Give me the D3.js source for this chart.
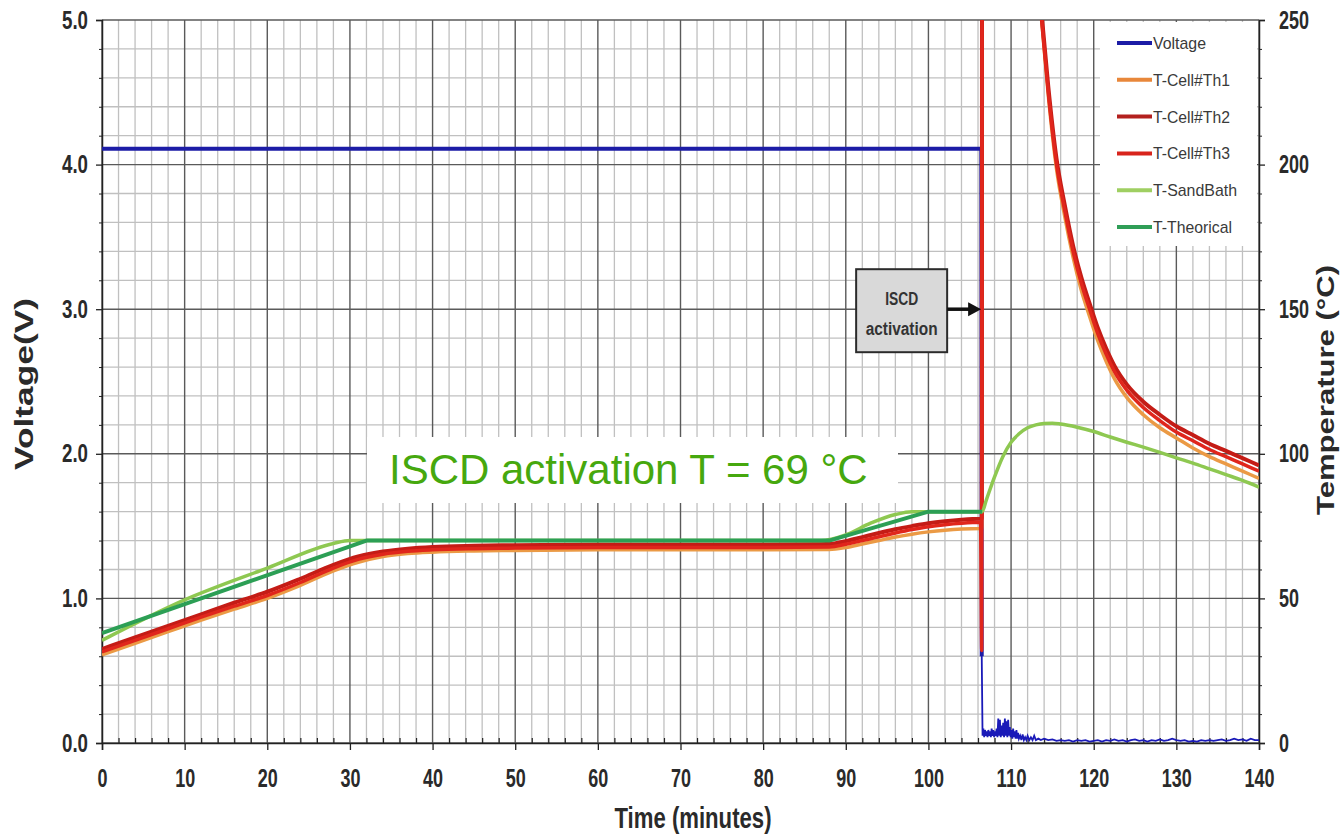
<!DOCTYPE html>
<html>
<head>
<meta charset="utf-8">
<script src="https://cdn.jsdelivr.net/npm/d3@7"></script>
<style>
  html, body { margin: 0; padding: 0; background: #ffffff; }
  svg { display: block; }
</style>
</head>
<body>
<svg id="chart" width="1343" height="836"></svg>
<script>
// ---- Axis ticks ----
const timeTicks = [0, 10, 20, 30, 40, 50, 60, 70, 80, 90, 100, 110, 120, 130, 140];
const voltTicks = [0, 1, 2, 3, 4, 5];
const tempTicks = [0, 50, 100, 150, 200, 250];

// ---- Cell voltage (V) ----
const voltTime = [0, 106.4, 106.45,
  106.55, 106.65, 106.75, 106.85, 106.95, 107.05, 107.15, 107.25, 107.35, 107.45,
  107.55, 107.65, 107.75, 107.85, 107.95, 108.05, 108.15, 108.25, 108.35, 108.45,
  108.55, 108.65, 108.75, 108.85, 108.95, 109.05, 109.15, 109.25, 109.35, 109.45,
  109.55, 109.65, 109.75, 109.85, 109.95, 110.05, 110.15, 110.25, 110.35, 110.45,
  110.55, 110.65, 110.75, 110.85, 110.95, 111.1, 111.25, 111.4, 111.55, 111.7,
  111.85, 112.0, 112.2, 112.4, 112.6, 112.8, 113.0, 113.3, 113.6,
  114, 114.5, 115, 115.5, 116, 116.5, 117, 117.5, 118, 118.5, 119, 119.5, 120,
  120.5, 121, 121.5, 122, 122.5, 123, 123.5, 124, 124.5, 125, 125.5, 126, 126.5,
  127, 127.5, 128, 128.5, 129, 129.5, 130, 130.5, 131, 131.5, 132, 132.5, 133,
  133.5, 134, 134.5, 135, 135.5, 136, 136.5, 137, 137.5, 138, 138.5, 139, 139.5, 140];
const voltValue = [4.11, 4.11, 0.60,
  0.05, 0.10, 0.04, 0.09, 0.05, 0.08, 0.04, 0.09, 0.05, 0.08,
  0.04, 0.10, 0.05, 0.09, 0.04, 0.08, 0.05, 0.10, 0.04, 0.17,
  0.05, 0.16, 0.04, 0.12, 0.05, 0.14, 0.04, 0.17, 0.05, 0.15,
  0.04, 0.16, 0.05, 0.11, 0.04, 0.09, 0.03, 0.10, 0.04, 0.08,
  0.03, 0.09, 0.03, 0.07, 0.03, 0.05, 0.02, 0.06, 0.02, 0.04,
  0.02, 0.05, 0.02, 0.04, 0.02, 0.05, 0.02, 0.03, 0.02,
  0.03, 0.02, 0.025, 0.015, 0.02, 0.015, 0.02, 0.01, 0.02, 0.015, 0.02, 0.01, 0.015,
  0.02, 0.01, 0.02, 0.015, 0.025, 0.015, 0.02, 0.01, 0.02, 0.025, 0.015, 0.02, 0.01,
  0.02, 0.015, 0.025, 0.015, 0.02, 0.03, 0.02, 0.015, 0.02, 0.01, 0.015, 0.01, 0.02,
  0.015, 0.02, 0.015, 0.02, 0.025, 0.015, 0.02, 0.03, 0.02, 0.025, 0.015, 0.03, 0.02, 0.02];

// ---- Cell thermocouples (°C) ----
const cellTime = [0, 4, 8, 12, 16, 20, 24, 28, 31, 34, 37, 40, 45, 50, 60, 70, 80, 88,
  90, 92, 94, 96, 98, 100, 102, 104, 106.3, 106.45, 106.5, 113, 113.7, 114.5, 115.5,
  116.5, 117.5, 118.5, 119.5, 120.5, 121.5, 122.5, 124, 126, 128, 130, 132, 134, 136, 138, 140];
const th1Value = [30.5, 34.5, 38.5, 42.5, 46.3, 50, 54.5, 59.5, 62.5, 64.5, 65.5, 66, 66.4, 66.6, 66.8, 66.8, 66.8, 66.9,
  67.6, 68.8, 70, 71.2, 72.2, 73, 73.6, 74, 74.2, 74.2, 330, 272, 250, 224, 198.5,
  182, 168, 156.5, 147.5, 139, 132, 126, 119.5, 113.5, 109, 105.5, 102, 99, 96.5, 94, 91.5];
const th2Value = [32.5, 36.5, 40.5, 44.5, 48.5, 52.3, 56.8, 61.6, 64.5, 66.2, 67.2, 67.8, 68.2, 68.4, 68.6, 68.6, 68.6, 68.8,
  69.8, 71.2, 72.6, 73.9, 75, 76, 76.7, 77.2, 77.5, 77.5, 330, 277, 252, 227, 202,
  186, 172, 161, 152, 143.5, 136.5, 130.5, 124, 118, 113.5, 109.5, 106.5, 103.5, 101, 98.5, 96];
const th3Value = [31.5, 35.5, 39.5, 43.5, 47.3, 51, 55.5, 60.5, 63.5, 65.3, 66.3, 66.8, 67.2, 67.4, 67.6, 67.6, 67.6, 67.8,
  68.7, 70, 71.3, 72.6, 73.8, 74.8, 75.5, 76, 76.3, 32, 330, 275, 250, 225, 200,
  184, 170, 159, 150, 141.5, 134.5, 128.5, 122, 116, 111.5, 107.5, 104.5, 101.5, 99, 96.5, 94];

// ---- Sand bath (°C) ----
const bathTime = [0, 10, 20, 28, 30, 40, 50, 60, 70, 80, 87, 90, 93, 96, 98, 100, 103, 106.5,
  107, 108, 109, 110, 111, 112, 113, 114, 115, 116, 118, 120, 122, 124, 126, 128, 130, 132, 134, 136, 138, 140];
const bathValue = [35.5, 49.5, 60.5, 69, 70, 70, 70, 70, 70, 70, 70, 72, 76, 79, 80, 80, 80, 80,
  84, 92, 99, 104, 107, 109, 110, 110.5, 110.6, 110.3, 109.2, 107.7, 105.8, 104, 102.3, 100.5, 98.6, 96.8, 94.8, 92.8, 90.8, 88.5];

// ---- Theoretical set-point (°C) ----
const theoTime = [0, 32, 88, 100, 106.5];
const theoValue = [38, 70, 70, 80, 80];

// ---- Annotations ----
const activationTime = 106.5;
const activationTemp = 69;

// ---- Legend entries ----
const legendNames = ["Voltage", "T-Cell#Th1", "T-Cell#Th2", "T-Cell#Th3", "T-SandBath", "T-Theorical"];
const legendColors = ["#1c1ca6", "#e8873a", "#b3201e", "#d8241c", "#9fcf62", "#2f9e57"];

// ---------------------------------------------------------------
const svg = d3.select("#chart");
const W = 1343, H = 836;
const pLeft = 102, pRight = 1259, pTop = 20, pBottom = 743;

const x = d3.scaleLinear().domain([0, 140]).range([pLeft, pRight]);
const yV = d3.scaleLinear().domain([0, 5]).range([pBottom, pTop]);
const yT = d3.scaleLinear().domain([0, 250]).range([pBottom, pTop]);

const narrow = "'Liberation Sans', Arial, Helvetica, sans-serif";

svg.append("rect").attr("width", W).attr("height", H).attr("fill", "#ffffff");

// ---- Grid ----
const grid = svg.append("g");
const minorX = d3.range(0, 141, 2).filter(d => d % 10 !== 0);
const minorY = d3.range(1, 25).filter(i => i % 5 !== 0).map(i => i * 0.2);

grid.selectAll(".gx-minor").data(minorX).join("line")
  .attr("x1", d => x(d)).attr("x2", d => x(d)).attr("y1", pTop).attr("y2", pBottom)
  .attr("stroke", "#c0c0c0").attr("stroke-width", 1.3);
grid.selectAll(".gy-minor").data(minorY).join("line")
  .attr("x1", pLeft).attr("x2", pRight).attr("y1", d => yV(d)).attr("y2", d => yV(d))
  .attr("stroke", "#c0c0c0").attr("stroke-width", 1.3);
grid.selectAll(".gx-major").data(timeTicks).join("line")
  .attr("x1", d => x(d)).attr("x2", d => x(d)).attr("y1", pTop).attr("y2", pBottom)
  .attr("stroke", "#5a5a5a").attr("stroke-width", 1.4);
grid.selectAll(".gy-major").data(voltTicks).join("line")
  .attr("x1", pLeft).attr("x2", pRight).attr("y1", d => yV(d)).attr("y2", d => yV(d))
  .attr("stroke", "#5a5a5a").attr("stroke-width", 1.4);

// ---- Axes ----
function squeeze(sel, perChar) {
  sel.each(function () {
    const t = this.textContent;
    const n = t.replace(/\./g, "").length;
    const dots = (t.match(/\./g) || []).length;
    d3.select(this).attr("textLength", n * perChar + dots * 5).attr("lengthAdjust", "spacingAndGlyphs");
  });
}
function styleAxis(g) {
  g.select(".domain").attr("stroke", "#222").attr("stroke-width", 1.5);
  g.selectAll(".tick line").attr("stroke", "#222").attr("stroke-width", 1.3);
  g.selectAll("text").attr("font-family", narrow).attr("font-weight", "bold")
    .attr("font-size", 25).attr("fill", "#2a2a2a");
}

const axL = svg.append("g").attr("transform", `translate(${pLeft},0)`)
  .call(d3.axisLeft(yV).tickValues(voltTicks).tickFormat(d3.format(".1f")).tickSize(6).tickPadding(8));
styleAxis(axL); squeeze(axL.selectAll("text"), 10.5);
svg.append("g").attr("transform", `translate(${pLeft},0)`)
  .call(d3.axisLeft(yV).tickValues(minorY).tickFormat("").tickSize(3))
  .call(g => { g.select(".domain").remove(); g.selectAll("line").attr("stroke", "#222"); });

const axR = svg.append("g").attr("transform", `translate(${pRight},0)`)
  .call(d3.axisRight(yT).tickValues(tempTicks).tickFormat(d3.format("d")).tickSize(6).tickPadding(14));
styleAxis(axR); squeeze(axR.selectAll("text"), 10);
svg.append("g").attr("transform", `translate(${pRight},0)`)
  .call(d3.axisRight(yT).tickValues(minorY.map(v => v * 50)).tickFormat("").tickSize(3))
  .call(g => { g.select(".domain").remove(); g.selectAll("line").attr("stroke", "#222"); });

const axB = svg.append("g").attr("transform", `translate(0,${pBottom})`)
  .call(d3.axisBottom(x).tickValues(timeTicks).tickFormat(d3.format("d")).tickSize(7).tickPadding(19));
styleAxis(axB); squeeze(axB.selectAll("text"), 10);
svg.append("g").attr("transform", `translate(0,${pBottom})`)
  .call(d3.axisTop(x).tickValues(minorX).tickFormat("").tickSize(5))
  .call(g => { g.select(".domain").remove(); g.selectAll("line").attr("stroke", "#222").attr("stroke-width", 1.2); });

// ---- Axis titles ----
svg.append("text").attr("transform", `translate(33,384) rotate(-90)`)
  .attr("text-anchor", "middle").attr("font-family", narrow).attr("font-weight", "bold")
  .attr("font-size", 25).attr("fill", "#2a2a2a")
  .attr("textLength", 172).attr("lengthAdjust", "spacingAndGlyphs").text("Voltage(V)");
svg.append("text").attr("transform", `translate(1334,390) rotate(-90)`)
  .attr("text-anchor", "middle").attr("font-family", narrow).attr("font-weight", "bold")
  .attr("font-size", 24).attr("fill", "#2a2a2a")
  .attr("textLength", 250).attr("lengthAdjust", "spacingAndGlyphs").text("Temperature (°C)");
svg.append("text").attr("x", 693).attr("y", 828)
  .attr("text-anchor", "middle").attr("font-family", narrow).attr("font-weight", "bold")
  .attr("font-size", 29).attr("fill", "#2a2a2a")
  .attr("textLength", 157).attr("lengthAdjust", "spacingAndGlyphs").text("Time (minutes)");

// ---- Data lines ----
svg.append("clipPath").attr("id", "plot-clip").append("rect")
  .attr("x", pLeft).attr("y", pTop).attr("width", pRight - pLeft).attr("height", pBottom - pTop);
const plot = svg.append("g").attr("clip-path", "url(#plot-clip)");

const toPts = (ts, vs) => ts.map((t, i) => [t, vs[i]]);
const voltPts = toPts(voltTime, voltValue);
const lineV = d3.line().x(d => x(d[0])).y(d => yV(d[1]));
const lineT = d3.line().x(d => x(d[0])).y(d => yT(d[1])).curve(d3.curveMonotoneX);
const lineLin = d3.line().x(d => x(d[0])).y(d => yT(d[1]));

// voltage: thin trace for the whole run, heavier trace for the steady plateau
plot.append("path").datum(voltPts).attr("d", lineV)
  .attr("fill", "none").attr("stroke", "#1a1ab8").attr("stroke-width", 1.8);
plot.append("path").datum(voltPts.filter(d => d[0] < activationTime)).attr("d", lineV)
  .attr("fill", "none").attr("stroke", "#1c1ca6").attr("stroke-width", 4);

const tempSeries = [
  { pts: toPts(cellTime, th1Value), color: "#eb9a45", w: 3.5, gen: lineT },
  { pts: toPts(cellTime, th2Value), color: "#c41c16", w: 4, gen: lineT },
  { pts: toPts(cellTime, th3Value), color: "#e0261c", w: 3.5, gen: lineT },
  { pts: toPts(bathTime, bathValue), color: "#8ec851", w: 3.5, gen: lineT },
  { pts: toPts(theoTime, theoValue), color: "#2c9f55", w: 4, gen: lineLin }
];
tempSeries.forEach(s => {
  plot.append("path").datum(s.pts).attr("d", s.gen)
    .attr("fill", "none").attr("stroke", s.color).attr("stroke-width", s.w)
    .attr("stroke-linejoin", "round");
});

// ---- ISCD activation callout ----
const tipX = x(activationTime), tipY = yV(3);
const boxW = 91, boxH = 83, boxR = tipX - 35;
const callout = svg.append("g");
callout.append("rect").attr("x", boxR - boxW).attr("y", tipY - 40).attr("width", boxW).attr("height", boxH)
  .attr("fill", "#d9d9d9").attr("stroke", "#2b2b2b").attr("stroke-width", 2);
callout.append("text").attr("x", boxR - boxW / 2).attr("y", tipY - 4)
  .attr("text-anchor", "middle").attr("font-family", narrow).attr("font-weight", "bold")
  .attr("font-size", 18).attr("fill", "#333")
  .attr("textLength", 33).attr("lengthAdjust", "spacingAndGlyphs").text("ISCD");
callout.append("text").attr("x", boxR - boxW / 2).attr("y", tipY + 26)
  .attr("text-anchor", "middle").attr("font-family", narrow).attr("font-weight", "bold")
  .attr("font-size", 18).attr("fill", "#333")
  .attr("textLength", 72).attr("lengthAdjust", "spacingAndGlyphs").text("activation");
callout.append("line").attr("x1", boxR).attr("x2", tipX - 12).attr("y1", tipY).attr("y2", tipY)
  .attr("stroke", "#111").attr("stroke-width", 3.5);
callout.append("path")
  .attr("d", `M${tipX - 14},${tipY - 7} L${tipX - 1},${tipY} L${tipX - 14},${tipY + 7} Z`)
  .attr("fill", "#111");

// ---- Activation temperature label ----
const label = svg.append("g");
label.append("rect").attr("x", 367).attr("y", 437).attr("width", 531).attr("height", 66).attr("fill", "#ffffff");
label.append("text").attr("x", 389).attr("y", 484)
  .attr("font-family", "'Liberation Sans', Arial, sans-serif").attr("font-size", 42)
  .attr("fill", "#46a80e").text(`ISCD activation T = ${activationTemp} °C`);

// ---- Legend ----
const legend = svg.append("g");
legend.append("rect").attr("x", 1100).attr("y", 22).attr("width", 157).attr("height", 224).attr("fill", "#ffffff");
const legendWidths = [53, 77, 77, 77, 84, 79];
legendNames.forEach((name, i) => {
  const cy = 43 + i * 36.8;
  legend.append("line").attr("x1", 1117).attr("x2", 1152).attr("y1", cy).attr("y2", cy)
    .attr("stroke", legendColors[i]).attr("stroke-width", 4);
  legend.append("text").attr("x", 1153).attr("y", cy + 6)
    .attr("font-family", narrow).attr("font-size", 17).attr("fill", "#3a3a3a")
    .attr("textLength", legendWidths[i]).attr("lengthAdjust", "spacingAndGlyphs").text(name);
});
</script>
</body>
</html>
